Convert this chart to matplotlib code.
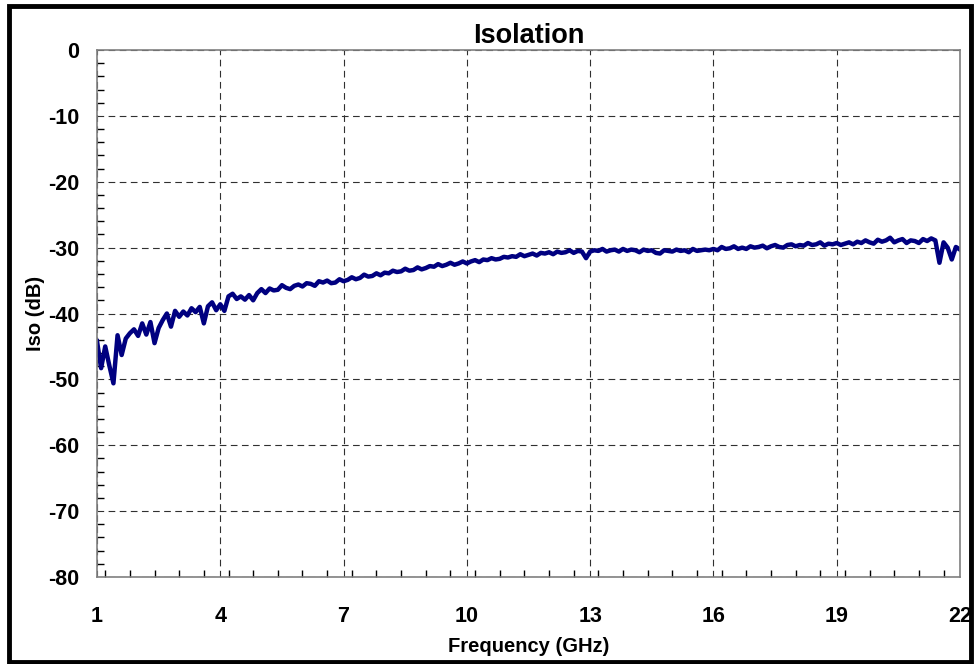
import numpy as np
import matplotlib
matplotlib.use("Agg")
import matplotlib.pyplot as plt
from matplotlib.ticker import MultipleLocator
from matplotlib.patches import Rectangle

# Isolation (dB), frequency sweep 1..22 GHz at 0.1 GHz step
iso_db = [
    -44.2, -48.3, -45.0, -47.9, -50.6, -43.3, -46.3, -43.8, -43.0, -42.4,
    -43.4, -41.5, -43.2, -41.3, -44.5, -42.2, -41.0, -40.0, -42.0, -39.6,
    -40.5, -39.7, -40.3, -39.2, -39.8, -39.0, -41.5, -38.9, -38.3, -39.5,
    -38.6, -39.6, -37.4, -37.0, -37.8, -37.4, -37.9, -37.2, -38.0, -36.9,
    -36.3, -36.9, -36.2, -36.5, -36.4, -35.7, -36.1, -36.3, -35.8, -35.6,
    -35.9, -35.4, -35.5, -35.8, -35.1, -35.3, -35.0, -35.4, -35.3, -34.8,
    -35.1, -34.9, -34.5, -34.8, -34.6, -34.1, -34.4, -34.3, -33.9, -34.2,
    -33.8, -33.9, -33.5, -33.7, -33.6, -33.2, -33.5, -33.4, -33.0, -33.3,
    -33.1, -32.8, -32.9, -32.5, -32.8, -32.6, -32.3, -32.6, -32.4, -32.1,
    -32.4, -32.1, -31.9, -32.2, -31.8, -31.9, -31.6, -31.8, -31.7, -31.4,
    -31.5, -31.3, -31.4, -31.0, -31.3, -31.1, -30.9, -31.2, -30.8, -30.9,
    -30.7, -31.0, -30.6, -30.8, -30.7, -30.4, -30.8, -30.5, -30.6, -31.6,
    -30.6, -30.4, -30.5, -30.2, -30.6, -30.4, -30.3, -30.6, -30.2, -30.5,
    -30.3, -30.4, -30.7, -30.3, -30.5, -30.4, -30.8, -30.9, -30.4, -30.5,
    -30.6, -30.3, -30.5, -30.4, -30.7, -30.2, -30.5, -30.4, -30.3, -30.4,
    -30.2, -30.4, -29.9, -30.2, -30.1, -29.8, -30.2, -30.0, -30.2, -29.8,
    -30.0, -29.9, -29.7, -30.1, -29.8, -29.6, -29.9, -30.0, -29.6, -29.5,
    -29.8, -29.6, -29.7, -29.3, -29.6, -29.5, -29.2, -29.7, -29.4, -29.5,
    -29.3, -29.6, -29.4, -29.2, -29.5, -29.1, -29.3, -28.9, -29.2, -29.4,
    -28.8, -29.1, -28.9, -28.5, -29.2, -28.9, -28.7, -29.3, -28.9, -29.0,
    -29.3, -28.7, -29.0, -28.6, -28.9, -32.3, -29.2, -30.0, -31.8, -29.9,
    -30.3,
]
freq_ghz = np.round(1.0 + 0.1 * np.arange(len(iso_db)), 1)

x_ticks = [1, 4, 7, 10, 13, 16, 19, 22]
y_ticks = [0, -10, -20, -30, -40, -50, -60, -70, -80]

plt.rcParams['font.family'] = ['Liberation Sans', 'DejaVu Sans']
plt.rcParams['font.weight'] = 'bold'
plt.rcParams['axes.unicode_minus'] = False

fig = plt.figure(figsize=(9.74, 6.64), dpi=100)
ax = fig.add_axes([97/974, 1 - 577/664, (960-97)/974, (577-50)/664])

ax.plot(freq_ghz, iso_db, color='#000080', linewidth=3.2, solid_joinstyle='round')

ax.set_xlim(1, 22)
ax.set_ylim(-80, 0)
ax.set_xticks(x_ticks)
ax.set_yticks(y_ticks)
ax.xaxis.set_minor_locator(MultipleLocator(0.6))
ax.yaxis.set_minor_locator(MultipleLocator(2))
ax.tick_params(axis='both', which='both', direction='in', color='black')
ax.tick_params(axis='both', which='major', length=0, labelsize=15.5)
ax.tick_params(axis='x', which='major', pad=21)
ax.tick_params(axis='y', which='major', pad=13)
ax.tick_params(axis='both', which='minor', length=5, width=1)
for lab in ax.get_xticklabels() + ax.get_yticklabels():
    lab.set_fontweight('bold')

ax.grid(True, which='major', color='#303030', linestyle=(0, (6, 4)), linewidth=0.8)
for s in ax.spines.values():
    s.set_color('#808080')
    s.set_linewidth(1.2)

ax.set_title('Isolation', fontsize=19.5, fontweight='bold', pad=5)
ax.set_xlabel('Frequency (GHz)', fontsize=14.5, fontweight='bold', labelpad=7)
ax.set_ylabel('Iso (dB)', fontsize=14.5, fontweight='bold', labelpad=2)

fig.patches.append(Rectangle((9/974, 2/664), 962/974, 656/664, transform=fig.transFigure,
                             fill=False, edgecolor='black', linewidth=3.5))

fig.savefig('out.png', dpi=100)
